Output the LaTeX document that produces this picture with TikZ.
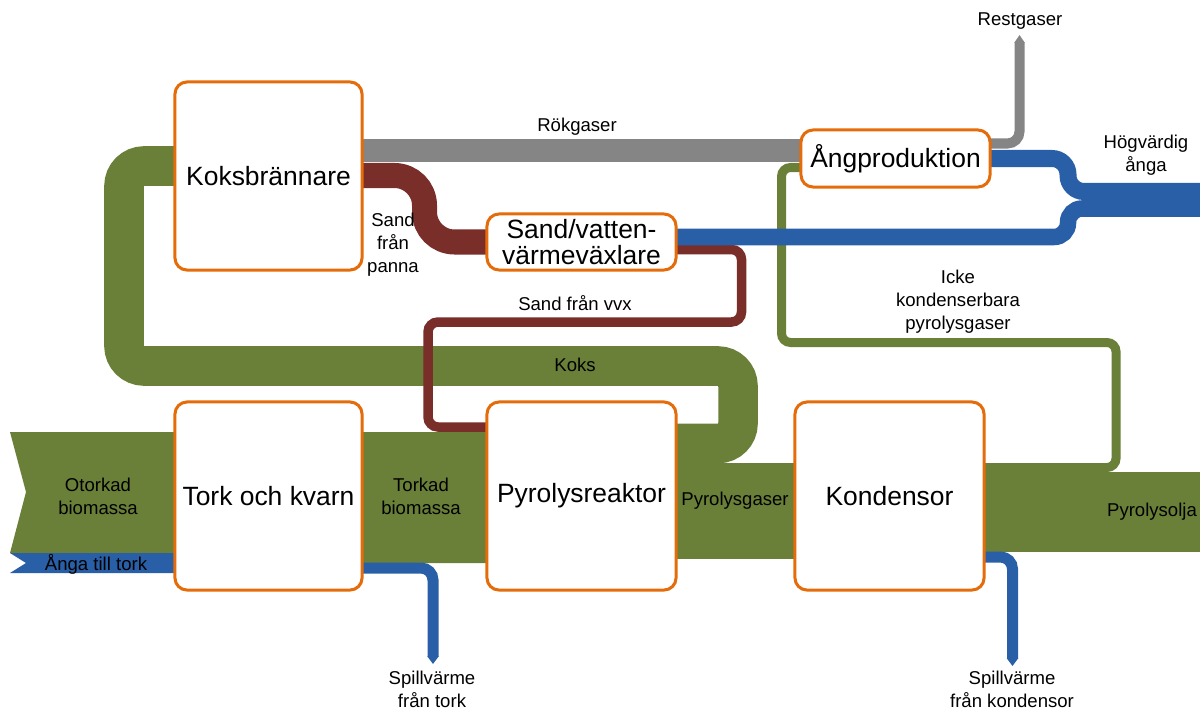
\documentclass[tikz,border=0pt]{standalone}
\usepackage{fontspec}
\setmainfont{Liberation Sans}
\usetikzlibrary{arrows.meta}
\definecolor{flowgreen}{RGB}{106,127,56}
\definecolor{flowblue}{RGB}{41,95,167}
\definecolor{flowbrown}{RGB}{122,46,41}
\definecolor{flowgray}{RGB}{133,133,133}
\definecolor{boxorange}{RGB}{228,108,10}
% one drawing unit (0.025cm) expressed in pt, for widths and radii
\def\u{0.71132pt}
\begin{document}
\begin{tikzpicture}[x=0.025cm,y=-0.025cm,
  procbox/.style={draw=boxorange, line width=3*\u, fill=white,
    rounded corners=12*\u, inner sep=0pt, align=center,
    font=\fontsize{18.8}{18.5}\selectfont},
  lbl/.style={inner sep=0pt, align=center,
    font=\fontsize{13.2}{16.4}\selectfont},
  tip/.style={-{Triangle[length=5.5pt,width=0pt 1]}},
]
\useasboundingbox (0,0) rectangle (1200,709);

% --- biomass / pyrolysis main stream ---
\fill[flowgreen] (10,432) -- (490,432) -- (490,563) -- (270,563) -- (270,553)
  -- (10,553) -- (26,492) -- cycle;
\fill[flowgreen] (670,463) rectangle (800,559);
\fill[flowgreen] (980,472) rectangle (1200,552);

% coke returned to the burner
\draw[flowgreen, line width=39.5*\u, rounded corners=20*\u]
  (670,443.5) -- (738,443.5) -- (738,366) -- (124,366) -- (124,166) -- (180,166);

% non-condensable gases to steam production
\draw[flowgreen, line width=9*\u, rounded corners=9*\u]
  (980,467.5) -- (1116,467.5) -- (1116,342.5) -- (781.5,342.5)
  -- (781.5,167.5) -- (805,167.5);

% flue gases
\draw[flowgray, line width=23*\u] (360,150.5) -- (805,150.5);
\draw[flowgray, line width=10*\u, rounded corners=12*\u, tip]
  (985,143.5) -- (1019.5,143.5) -- (1019.5,35);

% sand loop
\draw[flowbrown, line width=25*\u, rounded corners=30*\u]
  (360,175.5) -- (424.5,175.5) -- (424.5,242) -- (490,242);
\draw[flowbrown, line width=9.5*\u, rounded corners=10*\u]
  (670,249.5) -- (741.5,249.5) -- (741.5,322) -- (428,322) -- (428,427) -- (490,427);

% steam and waste heat
\fill[flowblue] (10,553) -- (180,553) -- (180,573) -- (10,573) -- (26,563) -- cycle;
\draw[flowblue, line width=11*\u, rounded corners=12*\u, tip]
  (360,568) -- (433,568) -- (433,664);
\draw[flowblue, line width=11*\u, rounded corners=12*\u, tip]
  (980,557) -- (1012.5,557) -- (1012.5,666);
\draw[flowblue, line width=17*\u, rounded corners=16*\u]
  (985,158.5) -- (1068,158.5) -- (1068,191.5) -- (1200,191.5);
\draw[flowblue, line width=16.5*\u, rounded corners=14*\u]
  (670,237) -- (1068,237) -- (1068,208.5) -- (1200,208.5);

% --- process units ---
\node[procbox, minimum width=187*\u, minimum height=188*\u] (kb) at (268.5,176) {Koksbrännare};
\node[procbox, minimum width=187*\u, minimum height=188*\u] (tk) at (268.5,496) {Tork och kvarn};
\node[procbox, minimum width=189*\u, minimum height=188*\u] (pr) at (581.5,496) {Pyrolysreaktor};
\node[procbox, minimum width=189*\u, minimum height=188*\u] (kd) at (889.5,496) {Kondensor};
\node[procbox, minimum width=189*\u, minimum height=57*\u] (ap) at (895.5,158.5) {Ångproduktion};
\node[procbox, minimum width=189*\u, minimum height=56*\u] (vvx) at (581.5,242) {Sand/vatten-\\värmeväxlare};

% --- stream labels ---
\node[lbl] (l1) at (577,127) {Rökgaser};
\node[lbl] (l2) at (1020,21) {Restgaser};
\node[lbl] (l3) at (1146,155) {Högvärdig\\ånga};
\node[lbl] (l4) at (393,245) {Sand\\från\\panna};
\node[lbl] (l5) at (575,303) {Sand från vvx};
\node[lbl] (l6) at (958,302) {Icke\\kondenserbara\\pyrolysgaser};
\node[lbl] (l7) at (575,365) {Koks};
\node[lbl] (l8) at (98,496) {Otorkad\\biomassa};
\node[lbl] (l9) at (96,564) {Ånga till tork};
\node[lbl] (l10) at (421,496) {Torkad\\biomassa};
\node[lbl] (l11) at (735,501) {Pyrolysgaser};
\node[lbl] (l12) at (1152,512) {Pyrolysolja};
\node[lbl] (l13) at (432,689) {Spillvärme\\från tork};
\node[lbl] (l14) at (1012,689) {Spillvärme\\från kondensor};
\end{tikzpicture}
\end{document}
